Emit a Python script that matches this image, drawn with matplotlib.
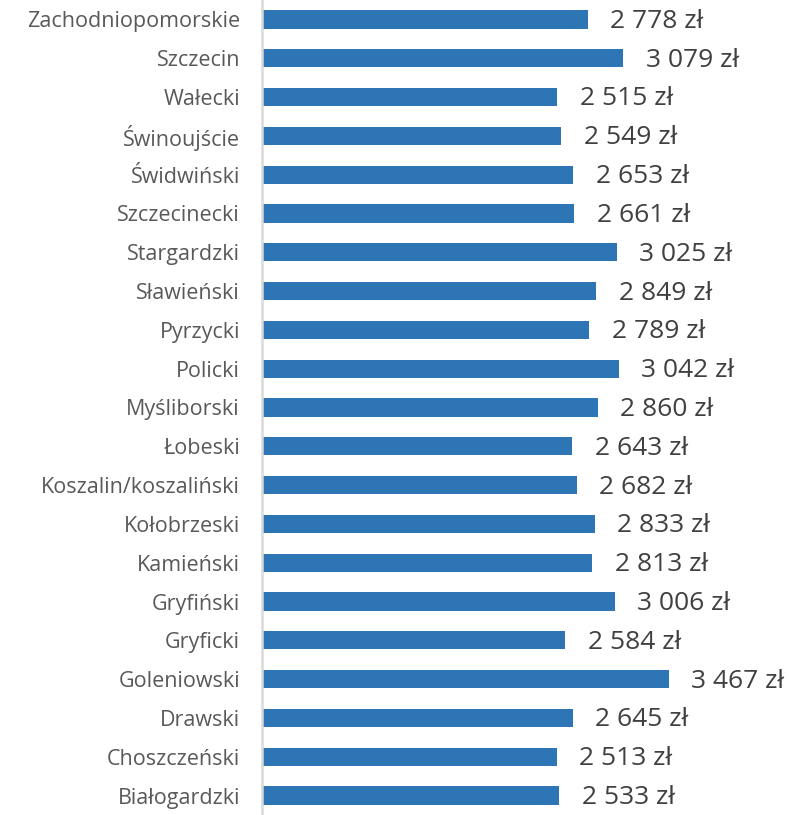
import matplotlib.pyplot as plt
import numpy as np

powiaty = ['Zachodniopomorskie', 'Szczecin', 'Wałecki', 'Świnoujście', 'Świdwiński',
           'Szczecinecki', 'Stargardzki', 'Sławieński', 'Pyrzycki', 'Policki',
           'Myśliborski', 'Łobeski', 'Koszalin/koszaliński', 'Kołobrzeski', 'Kamieński',
           'Gryfiński', 'Gryficki', 'Goleniowski', 'Drawski', 'Choszczeński', 'Białogardzki']
wynagrodzenie = [2778, 3079, 2515, 2549, 2653, 2661, 3025, 2849, 2789, 3042,
                 2860, 2643, 2682, 2833, 2813, 3006, 2584, 3467, 2645, 2513, 2533]

plt.rcParams['font.family'] = ['Open Sans', 'DejaVu Sans']

fig = plt.figure(figsize=(7.89, 8.15), dpi=100)
ax = fig.add_axes([262.2/789, 0, 1 - 262.2/789, 1])

y = np.arange(len(powiaty))
ax.barh(y, wynagrodzenie, height=0.47, color='#2E75B6')
ax.set_ylim(len(powiaty) - 0.5, -0.5)
ax.set_xlim(0, 4490)

for yi, v in zip(y, wynagrodzenie):
    txt = f'{v:,} zł'.replace(',', ' ')
    ax.text(v + 190, yi + 0.05, txt, va='center', ha='left', fontsize=19, color='#404040')

ax.set_yticks(y)
ax.set_yticklabels(powiaty, fontsize=15.5, color='#595959')
ax.tick_params(axis='y', length=0, pad=16)
ax.set_xticks([])
for s in ['top', 'right', 'bottom']:
    ax.spines[s].set_visible(False)
ax.spines['left'].set_color('#D9D9D9')
ax.spines['left'].set_linewidth(1.8)

plt.savefig('out.png', dpi=100)
